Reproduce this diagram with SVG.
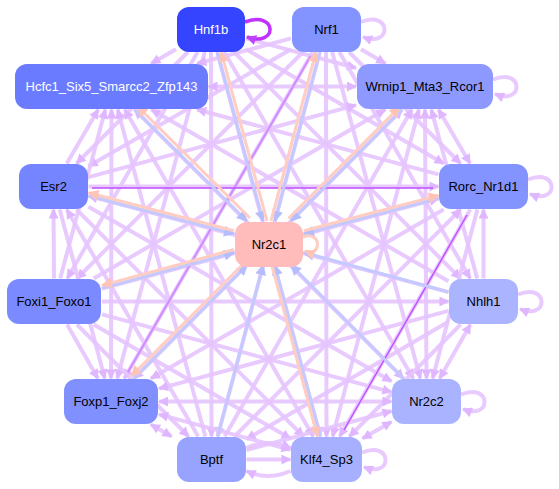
<svg xmlns="http://www.w3.org/2000/svg" width="559" height="489" viewBox="0 0 559 489">
<defs>
<style>
.e{fill:none;stroke:#e6c4ff;stroke-width:4;stroke-opacity:0.9}
.d{fill:none;stroke:#c050ff;stroke-width:1.5}
.d2{fill:none;stroke:#d08cff;stroke-width:2}
.bl{fill:none;stroke:#c4c9ff;stroke-width:3}
.pk{fill:none;stroke:#ffcdc2;stroke-width:3}
.me{marker-end:url(#a)}
.ms{marker-start:url(#a)}
.mb{marker-start:url(#a);marker-end:url(#a)}
.dm{marker-end:url(#ad)}
.bm{marker-end:url(#ab)}
.pm{marker-end:url(#ap)}
.lbl{font-family:"Liberation Sans",Arial,sans-serif;font-size:13px;text-anchor:middle;fill:#000}
.w{fill:#fff}
</style>
<marker id="a" viewBox="0 0 10 10" refX="9" refY="5" markerWidth="11" markerHeight="10" markerUnits="userSpaceOnUse" orient="auto-start-reverse"><path d="M0,0L10,5L0,10z" fill="#dfb6ff"/></marker>
<marker id="ad" viewBox="0 0 10 10" refX="9" refY="5" markerWidth="11" markerHeight="10" markerUnits="userSpaceOnUse" orient="auto-start-reverse"><path d="M0,0L10,5L0,10z" fill="#c040ff"/></marker>
<marker id="ab" viewBox="0 0 10 10" refX="9" refY="5" markerWidth="12" markerHeight="11" markerUnits="userSpaceOnUse" orient="auto"><path d="M0,0L10,5L0,10z" fill="#b6bdff"/></marker>
<marker id="ap" viewBox="0 0 10 10" refX="9" refY="5" markerWidth="12" markerHeight="11" markerUnits="userSpaceOnUse" orient="auto"><path d="M0,0L10,5L0,10z" fill="#ffc4b8"/></marker>
</defs>
<g id="connectors">
<line class="e me" x1="176" y1="49.2" x2="151.3" y2="63.5"/>
<line class="e me" x1="246" y1="38.4" x2="356" y2="68"/>
<line class="e me" x1="188" y1="52" x2="76.5" y2="163.5"/>
<line class="e me" x1="246" y1="49.2" x2="443.7" y2="163.5"/>
<line class="e me" x1="197.7" y1="52" x2="67.3" y2="278.5"/>
<line class="e me" x1="234" y1="52" x2="460.5" y2="278.5"/>
<line class="e me" x1="204.8" y1="52" x2="117.2" y2="378.5"/>
<line class="e me" x1="224.3" y1="52" x2="413.2" y2="378.5"/>
<line class="e me" x1="211" y1="52" x2="211.5" y2="436.5"/>
<line class="e me" x1="217.2" y1="52" x2="320.3" y2="436.5"/>
<line class="e me" x1="291" y1="38.4" x2="197.3" y2="63.5"/>
<line class="e me" x1="361" y1="49.3" x2="385.4" y2="63.5"/>
<line class="e me" x1="291" y1="49.2" x2="88.5" y2="166.3"/>
<line class="e me" x1="349" y1="52" x2="460.5" y2="163.5"/>
<line class="e me" x1="303" y1="52" x2="77" y2="278.5"/>
<line class="e me" x1="339.3" y1="52" x2="470.2" y2="278.5"/>
<line class="e me" x1="312.7" y1="52" x2="124.3" y2="378.5"/>
<line class="e me" x1="332.2" y1="52" x2="420.3" y2="378.5"/>
<line class="e me" x1="319.9" y1="52" x2="217.6" y2="436.5"/>
<line class="e me" x1="326" y1="52" x2="326.5" y2="436.5"/>
<line class="e mb" x1="208.5" y1="86.5" x2="356" y2="86.5"/>
<line class="e ms" x1="98.2" y1="109.5" x2="66.8" y2="163.5"/>
<line class="e ms" x1="197.1" y1="109.5" x2="438.5" y2="174.4"/>
<line class="e ms" x1="105.3" y1="109.5" x2="60.2" y2="278.5"/>
<line class="e ms" x1="151.3" y1="109.5" x2="448.5" y2="281.3"/>
<line class="e mb" x1="111.5" y1="109.5" x2="111" y2="378.5"/>
<line class="e mb" x1="134.5" y1="109.5" x2="403.5" y2="378.5"/>
<line class="e ms" x1="117.7" y1="109.5" x2="205.3" y2="436.5"/>
<line class="e mb" x1="124.8" y1="109.5" x2="313.2" y2="436.5"/>
<line class="e ms" x1="356" y1="105.1" x2="88.5" y2="177.1"/>
<line class="e mb" x1="438.5" y1="109.5" x2="470" y2="163.5"/>
<line class="e ms" x1="385.3" y1="109.5" x2="93.7" y2="278.5"/>
<line class="e ms" x1="431.3" y1="109.5" x2="477.2" y2="278.5"/>
<line class="e mb" x1="402.1" y1="109.5" x2="133.9" y2="378.5"/>
<line class="e mb" x1="425" y1="109.5" x2="426.5" y2="378.5"/>
<line class="e ms" x1="411.8" y1="109.5" x2="224.7" y2="436.5"/>
<line class="e mb" x1="418.9" y1="109.5" x2="332.6" y2="436.5"/>
<line class="e me" x1="88.5" y1="186.5" x2="438.5" y2="186.5"/>
<line class="e ms" x1="53.5" y1="209.5" x2="54" y2="278.5"/>
<line class="e ms" x1="88.5" y1="195.9" x2="448.5" y2="292.1"/>
<line class="e me" x1="59.7" y1="209.5" x2="104.8" y2="378.5"/>
<line class="e me" x1="88.5" y1="206.7" x2="391.5" y2="381.3"/>
<line class="e ms" x1="66.8" y1="209.5" x2="198.2" y2="436.5"/>
<line class="e me" x1="76.5" y1="209.5" x2="303.5" y2="436.5"/>
<line class="e ms" x1="438.5" y1="198.5" x2="102" y2="288.6"/>
<line class="e ms" x1="483.5" y1="209.5" x2="483.5" y2="278.5"/>
<line class="e me" x1="443.6" y1="209.5" x2="150.9" y2="378.5"/>
<line class="e me" x1="477.4" y1="209.5" x2="432.6" y2="378.5"/>
<line class="e ms" x1="460.6" y1="209.5" x2="234.4" y2="436.5"/>
<line class="e me" x1="470.3" y1="209.5" x2="339.7" y2="436.5"/>
<line class="e me" x1="102" y1="301.5" x2="448.5" y2="301.5"/>
<line class="e me" x1="67.1" y1="324.5" x2="97.9" y2="378.5"/>
<line class="e me" x1="102" y1="314.4" x2="391.5" y2="392.1"/>
<line class="e me" x1="77" y1="324.5" x2="188.6" y2="436.5"/>
<line class="e me" x1="93.7" y1="324.5" x2="290.5" y2="438.6"/>
<line class="e me" x1="448.5" y1="310.9" x2="159" y2="388.6"/>
<line class="e mb" x1="470.4" y1="324.5" x2="439.6" y2="378.5"/>
<line class="e me" x1="448.5" y1="321.8" x2="246.5" y2="439.2"/>
<line class="e me" x1="460.6" y1="324.5" x2="349.4" y2="436.5"/>
<line class="e mb" x1="159" y1="401.5" x2="391.5" y2="401.5"/>
<line class="e mb" x1="150.9" y1="424.5" x2="171.6" y2="436.5"/>
<line class="e mb" x1="159" y1="414.4" x2="290.5" y2="449.8"/>
<line class="e ms" x1="391.5" y1="411" x2="246.5" y2="450"/>
<line class="e mb" x1="391.5" y1="421.8" x2="362.5" y2="438.6"/>
<line class="e me" x1="246.5" y1="459.5" x2="290.5" y2="459.5"/>
<path class="e me" d="M246.5,448 Q268,438 290.5,448"/>
<path class="e ms" d="M246.5,471 Q268,481 290.5,471"/>
<line class="d2" x1="310.7" y1="56" x2="128" y2="372"/>
<line class="d" x1="92" y1="188" x2="433" y2="188"/>
<line class="d" x1="467" y1="215" x2="344" y2="430"/>
<path class="e me" d="M361,22 C392,10 392,48 363,37"/>
<path class="e me" d="M493,79.5 C524,67 524,106 495,94"/>
<path class="e me" d="M528,179.5 C559,167 559,206 530,194"/>
<path class="e me" d="M518,294.5 C549,282 549,321 520,309"/>
<path class="e me" d="M461,394.5 C492,382 492,421 463,409"/>
<path class="e me" d="M362,452.5 C393,440 393,479 364,467"/>
<path fill="none" stroke="#c030ff" stroke-width="3.5" class="dm" d="M245,22 C278,10 278,48 247,37"/>
<line class="bl bm" x1="217.2" y1="52" x2="263" y2="221"/>
<line class="bl bm" x1="319.9" y1="52" x2="275" y2="221"/>
<line class="bl bm" x1="134.6" y1="109.5" x2="246.9" y2="221"/>
<line class="bl bm" x1="402.1" y1="109.5" x2="291" y2="221"/>
<line class="bl bm" x1="88.5" y1="195.7" x2="234" y2="233.8"/>
<line class="bl bm" x1="438.5" y1="198.4" x2="304" y2="233.8"/>
<line class="bl bm" x1="102" y1="288.4" x2="234" y2="252.5"/>
<line class="bl bm" x1="448.5" y1="292" x2="304" y2="252.5"/>
<line class="bl bm" x1="133.9" y1="378.5" x2="247.1" y2="265"/>
<line class="bl bm" x1="403.6" y1="378.5" x2="290.9" y2="265"/>
<line class="bl bm" x1="217.6" y1="436.5" x2="263.2" y2="265"/>
<line class="bl bm" x1="320.4" y1="436.5" x2="274.8" y2="265"/>
<line class="pk pm" x1="267" y1="221" x2="221.2" y2="52"/>
<line class="pk pm" x1="271" y1="221" x2="315.9" y2="52"/>
<line class="pk pm" x1="249.9" y1="218" x2="137.6" y2="106.5"/>
<line class="pk pm" x1="288.5" y1="218.5" x2="399.6" y2="107"/>
<line class="pk pm" x1="234" y1="230.8" x2="88.5" y2="192.7"/>
<line class="pk pm" x1="304" y1="230.8" x2="438.5" y2="195.4"/>
<line class="pk pm" x1="234" y1="249.5" x2="102" y2="285.4"/>
<line class="pk pm" x1="244.6" y1="262.5" x2="131.4" y2="376"/>
<line class="pk pm" x1="271.8" y1="265" x2="317.4" y2="436.5"/>
<path class="pk pm" d="M303,237 C322,230 322,258 305,251"/>
</g>
<g id="n-Hnf1b"><rect x="177" y="7" width="68" height="45" rx="12" fill="#3444ff"/><text class="lbl w" x="211" y="34">Hnf1b</text></g>
<g id="n-Nrf1"><rect x="292" y="7" width="69" height="45" rx="12" fill="#8393ff"/><text class="lbl" x="326.5" y="34">Nrf1</text></g>
<g id="n-Hcfc1"><rect x="15" y="64" width="193" height="45" rx="12" fill="#6b7bff"/><text class="lbl w" x="111.5" y="91">Hcfc1_Six5_Smarcc2_Zfp143</text></g>
<g id="n-Wrnip1"><rect x="357" y="64" width="136" height="45" rx="12" fill="#8d99ff"/><text class="lbl" x="425" y="91">Wrnip1_Mta3_Rcor1</text></g>
<g id="n-Esr2"><rect x="19" y="164" width="69" height="45" rx="12" fill="#7585ff"/><text class="lbl" x="53.5" y="191">Esr2</text></g>
<g id="n-Rorc"><rect x="439" y="164" width="89" height="45" rx="12" fill="#8393ff"/><text class="lbl" x="483.5" y="191">Rorc_Nr1d1</text></g>
<g id="n-Nr2c1"><rect x="235" y="222" width="68" height="45" rx="12" fill="#ffbcbb"/><text class="lbl" x="269" y="249">Nr2c1</text></g>
<g id="n-Foxi1"><rect x="7" y="279" width="94" height="45" rx="12" fill="#7b8bff"/><text class="lbl" x="54" y="306">Foxi1_Foxo1</text></g>
<g id="n-Nhlh1"><rect x="449" y="279" width="69" height="45" rx="12" fill="#aab4ff"/><text class="lbl" x="483.5" y="306">Nhlh1</text></g>
<g id="n-Foxp1"><rect x="64" y="379" width="94" height="45" rx="12" fill="#8090ff"/><text class="lbl" x="111" y="406">Foxp1_Foxj2</text></g>
<g id="n-Nr2c2"><rect x="392" y="379" width="69" height="45" rx="12" fill="#a9b3ff"/><text class="lbl" x="426.5" y="406">Nr2c2</text></g>
<g id="n-Bptf"><rect x="177" y="437" width="69" height="45" rx="12" fill="#97a3ff"/><text class="lbl" x="211.5" y="464">Bptf</text></g>
<g id="n-Klf4"><rect x="291" y="437" width="71" height="45" rx="12" fill="#a6b0ff"/><text class="lbl" x="326.5" y="464">Klf4_Sp3</text></g>
</svg>
